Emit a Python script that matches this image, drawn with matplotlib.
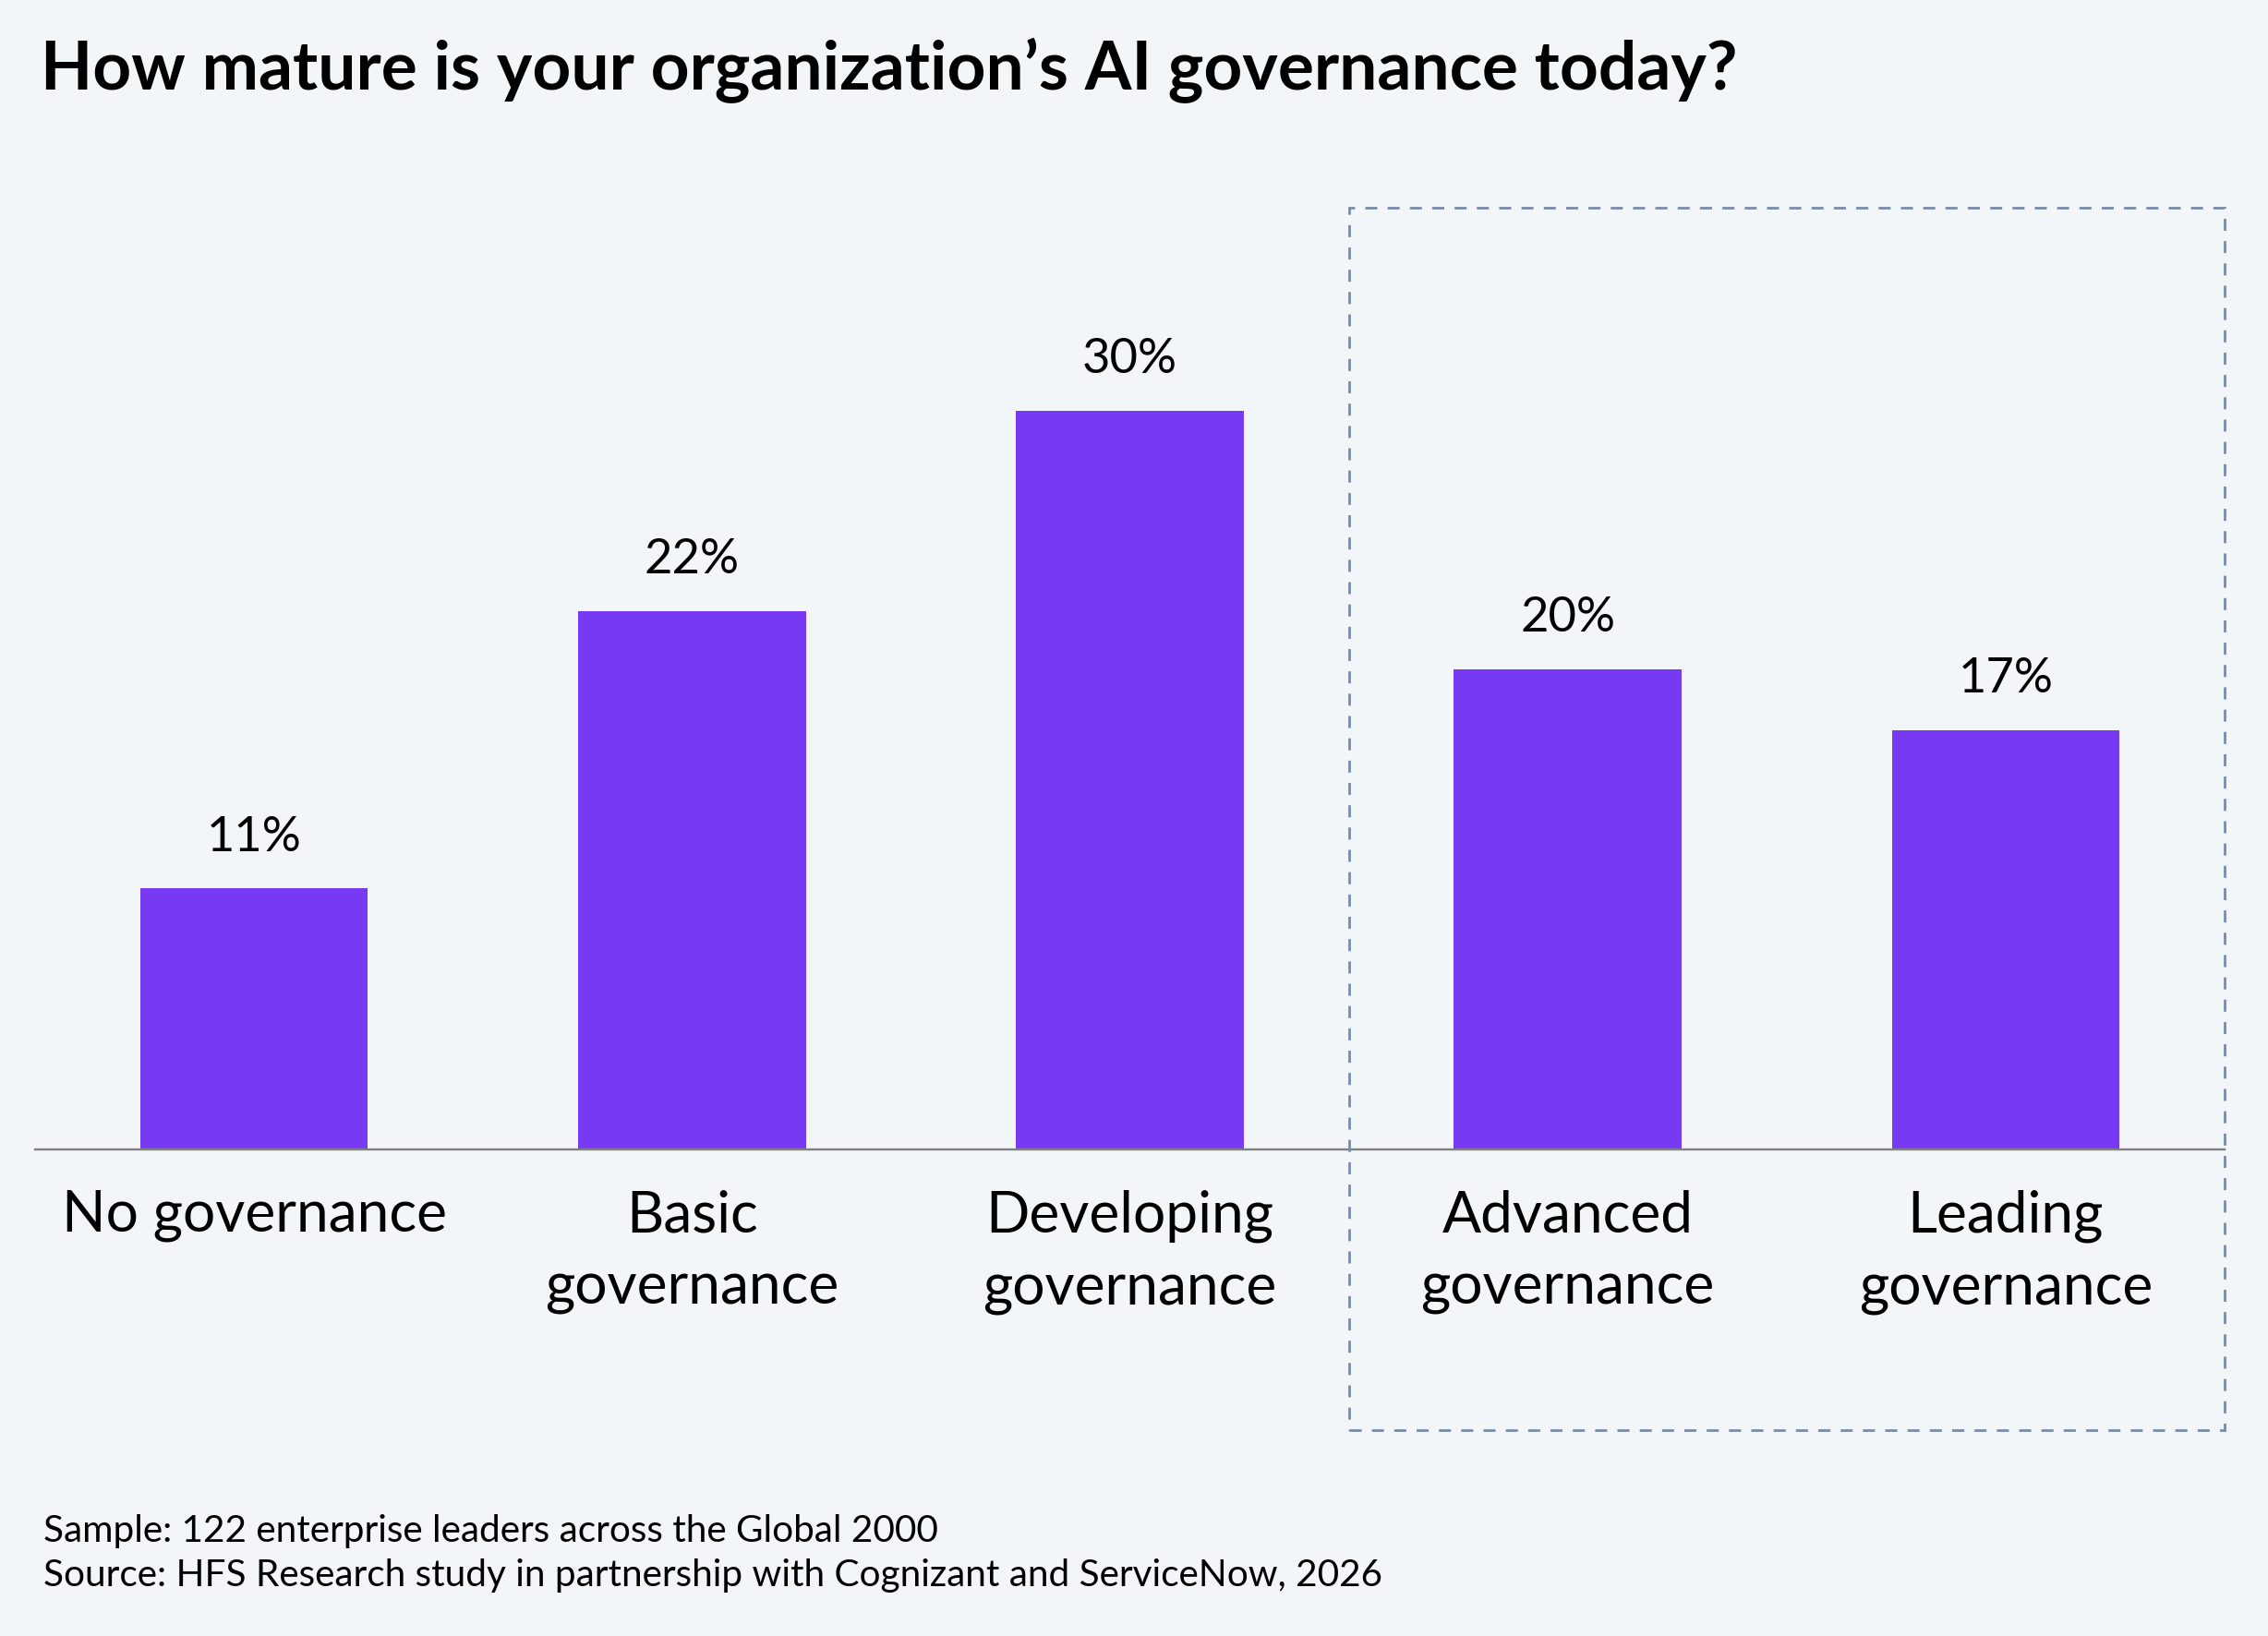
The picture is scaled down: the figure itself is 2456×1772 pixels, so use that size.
import matplotlib
matplotlib.use("Agg")
import matplotlib.pyplot as plt
import matplotlib.transforms as mtransforms
from matplotlib.patches import Rectangle

# ---- data ----
categories = ["No governance", "Basic\ngovernance", "Developing\ngovernance",
              "Advanced\ngovernance", "Leading\ngovernance"]
values = [10.7, 22.1, 30.3, 19.7, 17.2]          # bar heights (%)
value_labels = ["11%", "22%", "30%", "20%", "17%"]
title = "How mature is your organization\u2019s AI governance today?"
footer_lines = ["Sample: 122 enterprise leaders across the Global 2000",
                "Source: HFS Research study in partnership with Cognizant and ServiceNow, 2026"]
highlight_range = (2.5, 4.5)   # categories grouped by the dashed box (between bars)

# ---- style ----
BG = "#F2F6F9"
BAR = "#7739F2"
AXIS = "#808080"
BOX = "#7A8CA8"
TXT = "#000000"
FONT = ["Lato", "DejaVu Sans"]

W, H, DPI = 2456, 1772, 100
fig = plt.figure(figsize=(W / DPI, H / DPI), dpi=DPI, facecolor=BG)

left, right = 38 / W, 2409 / W
bottom, top = 1 - 1245 / H, 1 - 286.6 / H
ax = fig.add_axes([left, bottom, right - left, top - bottom])
ax.set_facecolor(BG)

x = list(range(len(categories)))
ax.bar(x, values, width=0.52, color=BAR, zorder=2)
ax.set_xlim(-0.5, 4.5)
ax.set_ylim(0, 36.3)
for s in ["top", "right", "left"]:
    ax.spines[s].set_visible(False)
ax.spines["bottom"].set_color(AXIS)
ax.spines["bottom"].set_linewidth(1.7)
ax.spines["bottom"].set_zorder(3)
ax.set_yticks([])
ax.set_xticks(x)
ax.set_xticklabels(categories, fontfamily=FONT, fontweight="normal",
                   linespacing=1.47, color=TXT)
ax.tick_params(axis="x", length=0, pad=31)

vtexts = []
for xi, v, lbl in zip(x, values, value_labels):
    t = ax.annotate(lbl, (xi, v), xytext=(0, 29.5), textcoords="offset points",
                    ha="center", va="baseline", fontfamily=FONT,
                    fontweight="normal", color=TXT)
    vtexts.append(t)

ttl = fig.text(44 / W, 1 - 97 / H, title, fontfamily=FONT, fontweight="bold",
               ha="left", va="baseline", color=TXT)
f1 = fig.text(47 / W, 1 - 1670 / H, footer_lines[0], fontfamily=FONT,
              fontweight="normal", ha="left", va="baseline", color=TXT)
f2 = fig.text(47 / W, 1 - 1718 / H, footer_lines[1], fontfamily=FONT,
              fontweight="normal", ha="left", va="baseline", color=TXT)

# dashed highlight box: x in data units, y in figure fraction
trans = mtransforms.blended_transform_factory(ax.transData, fig.transFigure)
b0, b1 = 1 - 1549 / H, 1 - 225.5 / H
box = Rectangle((highlight_range[0], b0), highlight_range[1] - highlight_range[0],
                b1 - b0, transform=trans, fill=False, edgecolor=BOX,
                linewidth=2.0, linestyle=(0, (4.7, 4.0)), clip_on=False, zorder=1)
fig.add_artist(box)

# ---- fit font sizes to the reference text widths (pixels) ----
def fit(texts, ref_text, target_px, start):
    for t in texts:
        t.set_fontsize(start)
    for _ in range(3):
        fig.canvas.draw()
        r = fig.canvas.get_renderer()
        w = ref_text.get_window_extent(r).width
        size = ref_text.get_fontsize() * target_px / w
        for t in texts:
            t.set_fontsize(size)

fit([ttl], ttl, 1836, 50)
fit([f1, f2], f2, 1450, 30)
fit(vtexts, vtexts[2], 103, 40)
ticklabels = ax.get_xticklabels()
fit(ticklabels, ticklabels[0], 417, 40)

fig.savefig("out.png", dpi=DPI, facecolor=BG)
